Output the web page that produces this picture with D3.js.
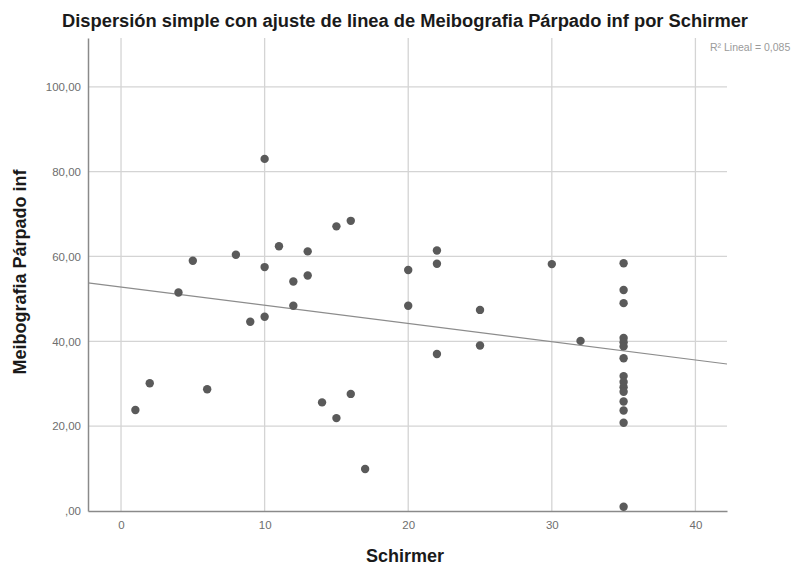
<!DOCTYPE html>
<html><head><meta charset="utf-8">
<script src="https://cdn.jsdelivr.net/npm/d3@7"></script>
<style>body{margin:0;background:#fff}svg{display:block}</style>
</head><body>
<script>
const schirmer = [1,2,4,5,6,8,9,10,10,10,11,12,12,13,13,14,15,15,16,16,17,20,20,22,22,22,25,25,30,32,
  35,35,35,35,35,35,35,35,35,35,35,35,35,35,35];
const meibografia = [23.8,30.1,51.5,59.0,28.7,60.4,44.6,83.0,57.5,45.8,62.4,54.1,48.4,61.2,55.5,25.6,67.1,21.9,68.4,27.6,9.9,56.8,48.4,61.4,58.3,37.0,47.4,39.0,58.2,40.1,
  58.4,52.1,49.0,40.8,39.8,38.8,36.0,31.8,30.4,29.2,28.1,25.8,23.7,20.8,1.0];
const xTicks = [0,10,20,30,40];
const yTicks = [0,20,40,60,80,100];
const yTickLabels = [",00","20,00","40,00","60,00","80,00","100,00"];
const fitIntercept = 52.8, fitSlope = -0.43;
const r2Label = "R² Lineal = 0,085";

const W = 805, H = 568;
const m = {left: 88, right: 78, top: 38, bottom: 57};
const svg = d3.select("body").append("svg").attr("width", W).attr("height", H)
  .style("font-family", "'Liberation Sans', Arial, sans-serif");

const x = d3.scaleLinear().domain([-2.3, 42.2]).range([m.left, W - m.right]);
const y = d3.scaleLinear().domain([0, 111.5]).range([H - m.bottom, m.top]);

// gridlines
svg.append("g").selectAll("line").data(xTicks).join("line")
  .attr("x1", d => x(d)).attr("x2", d => x(d)).attr("y1", y(111.5)).attr("y2", y(0))
  .attr("stroke", "#d4d4d4").attr("stroke-width", 1.3);
svg.append("g").selectAll("line").data(yTicks.filter(d => d > 0)).join("line")
  .attr("x1", x(-2.3)).attr("x2", x(42.2)).attr("y1", d => y(d)).attr("y2", d => y(d))
  .attr("stroke", "#d4d4d4").attr("stroke-width", 1.3);

// axes
const xAxis = svg.append("g").attr("transform", `translate(0,${y(0)})`)
  .call(d3.axisBottom(x).tickValues(xTicks).tickSize(0).tickPadding(10));
const yAxis = svg.append("g").attr("transform", `translate(${x(-2.3)},0)`)
  .call(d3.axisLeft(y).tickValues(yTicks).tickSize(0).tickPadding(7)
    .tickFormat((d, i) => yTickLabels[i]));
[xAxis, yAxis].forEach(a => {
  a.select(".domain").attr("stroke", "#8a8a8a").attr("stroke-width", 1.5);
  a.selectAll("text").attr("fill", "#6e6e6e").style("font-size", "11.5px")
    .style("font-family", "'Liberation Sans', Arial, sans-serif");
});

// fit line
svg.append("line")
  .attr("x1", x(-2.3)).attr("y1", y(fitIntercept + fitSlope * -2.3))
  .attr("x2", x(42.2)).attr("y2", y(fitIntercept + fitSlope * 42.2))
  .attr("stroke", "#8c8c8c").attr("stroke-width", 1.2);

// points
svg.append("g").selectAll("circle").data(schirmer.map((s, i) => [s, meibografia[i]])).join("circle")
  .attr("cx", d => x(d[0])).attr("cy", d => y(d[1])).attr("r", 4.2)
  .attr("fill", "#5a5a5a");

// texts
svg.append("text").attr("x", 405).attr("y", 27).attr("text-anchor", "middle")
  .attr("textLength", 686).attr("lengthAdjust", "spacingAndGlyphs")
  .style("font-size", "17.5px").style("font-weight", "bold").attr("fill", "#1a1a1a")
  .text("Dispersión simple con ajuste de linea de Meibografia Párpado inf por Schirmer");
svg.append("text").attr("x", 710).attr("y", 51)
  .style("font-size", "10.5px").attr("fill", "#9a9a9a").text(r2Label);
svg.append("text").attr("x", 405).attr("y", 562).attr("text-anchor", "middle")
  .style("font-size", "18px").style("font-weight", "bold").attr("fill", "#1a1a1a")
  .text("Schirmer");
svg.append("text").attr("transform", "translate(26,272) rotate(-90)").attr("text-anchor", "middle")
  .style("font-size", "18px").style("font-weight", "bold").attr("fill", "#1a1a1a")
  .text("Meibografia Párpado inf");
</script>
</body></html>
